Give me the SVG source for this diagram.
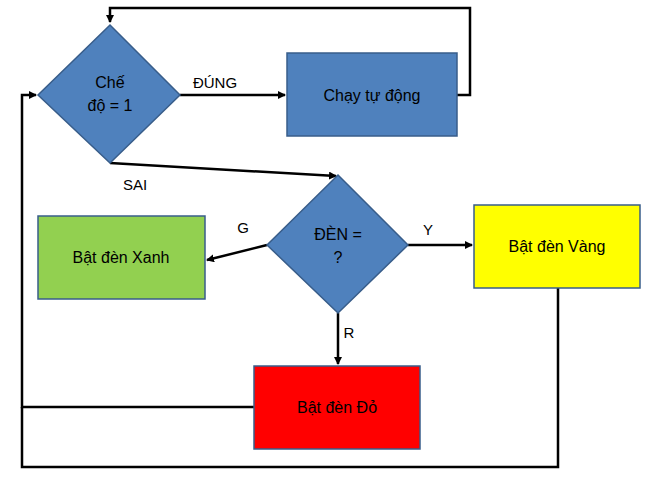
<svg xmlns="http://www.w3.org/2000/svg" width="656" height="503" viewBox="0 0 656 503">
<style>
.n{stroke:#385D8A;stroke-width:1.5}
.t{font-family:"Liberation Sans",Arial,sans-serif;font-size:16px;text-anchor:middle}
.l{font-family:"Liberation Sans",Arial,sans-serif;font-size:15px;text-anchor:middle}
.c{fill:none;stroke:#000;stroke-width:2.5}
</style>
<defs><marker id="a" markerWidth="8" markerHeight="8" refX="7" refY="4" orient="auto" markerUnits="userSpaceOnUse"><path d="M0,0L8,4L0,8z" fill="#000"/></marker></defs>
<rect width="656" height="503" fill="#fff"/>
<g id="connectors">
<path class="c" d="M180,95H285" marker-end="url(#a)"/>
<path class="c" d="M457,95H470V8H110V22" marker-end="url(#a)"/>
<path class="c" d="M110,163L336,176" marker-end="url(#a)"/>
<path class="c" d="M267,245L207,260" marker-end="url(#a)"/>
<path class="c" d="M408,245H472" marker-end="url(#a)"/>
<path class="c" d="M338,313V364" marker-end="url(#a)"/>
<path class="c" d="M254,407H22V95H36" marker-end="url(#a)"/>
<path class="c" d="M558,288V467H22V407"/>
<text class="l" x="215" y="88">ĐÚNG</text>
<text class="l" x="135" y="190">SAI</text>
<text class="l" x="243" y="233">G</text>
<text class="l" x="428" y="235">Y</text>
<text class="l" x="349" y="338">R</text>
</g>
<g id="d1"><path class="n" fill="#4F81BD" d="M110,25L180,95L110,163L38,95z"/><text class="t" x="110" y="88">Chế</text><text class="t" x="110" y="111">độ = 1</text></g>
<g id="auto"><rect class="n" fill="#4F81BD" x="287" y="53" width="170" height="83"/><text class="t" x="372" y="101">Chạy tự động</text></g>
<g id="d2"><path class="n" fill="#4F81BD" d="M338,175L408,245L338,313L267,245z"/><text class="t" x="338" y="240">ĐÈN =</text><text class="t" x="338" y="263">?</text></g>
<g id="green"><rect class="n" fill="#92D050" x="38" y="216" width="167" height="83"/><text class="t" x="121" y="263">Bật đèn Xanh</text></g>
<g id="yellow"><rect class="n" fill="#FFFF00" x="474" y="205" width="166" height="83"/><text class="t" x="557" y="252">Bật đèn Vàng</text></g>
<g id="red"><rect class="n" fill="#FF0000" x="254" y="366" width="166" height="83"/><text class="t" x="337" y="413">Bật đèn Đỏ</text></g>
</svg>
